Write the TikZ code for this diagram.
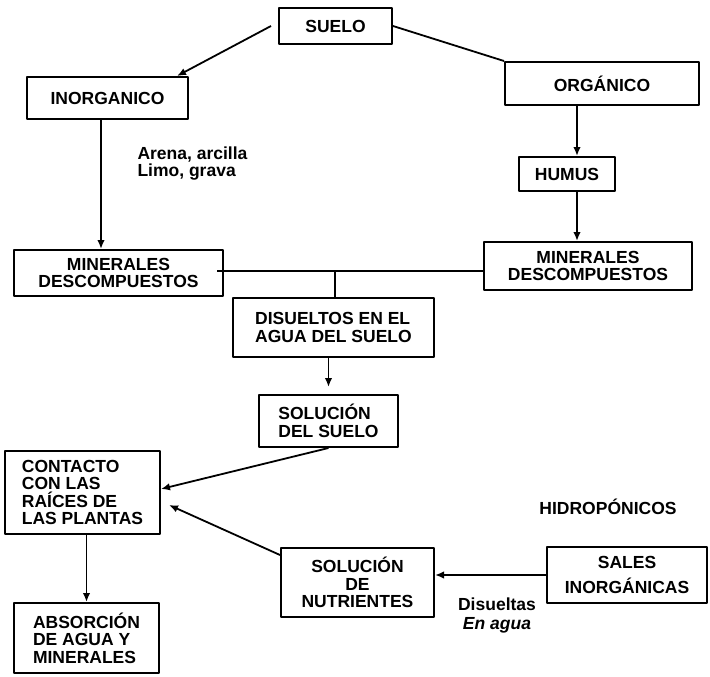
\documentclass[tikz,border=0pt]{standalone}
\usepackage{fontspec}
\setmainfont{Liberation Sans}
\usetikzlibrary{arrows.meta}
\begin{document}
\begin{tikzpicture}[x=1pt,y=-1pt,>={Latex[length=9pt,width=7.5pt]},line join=round,
	font=\fontsize{17.5}{17.5}\selectfont\bfseries,
	caja/.style={draw,line width=2pt,inner sep=0pt,align=center},
	linea/.style={line width=1.8pt},
	flecha/.style={->,line width=1.8pt}]
	\useasboundingbox (0,0) rectangle (710,677);
	\node[caja,minimum width=113pt,minimum height=36pt] (suelo) at (335.5,26) {SUELO};
	\node[caja,minimum width=161pt,minimum height=42pt] (inorg) at (107.5,98) {INORGANICO};
	\node[caja,minimum width=194pt,minimum height=43pt] (org) at (602,83.5) {ORGÁNICO};
	\node[caja,minimum width=96pt,minimum height=34pt] (humus) at (567,174) {HUMUS};
	\node[caja,minimum width=209pt,minimum height=46pt] (minL) at (118.5,273) {MINERALES\\DESCOMPUESTOS};
	\node[caja,minimum width=208pt,minimum height=48pt] (minR) at (588,266) {MINERALES\\DESCOMPUESTOS};
	\node[caja,align=left,minimum width=201pt,minimum height=59pt] (disu) at (333.5,327.5) {DISUELTOS EN EL\\AGUA DEL SUELO};
	\node[caja,align=left,minimum width=139pt,minimum height=52pt] (solS) at (328.5,421) {SOLUCIÓN\\DEL SUELO};
	\node[caja,align=left,minimum width=155pt,minimum height=83pt] (cont) at (82.5,492.5) {CONTACTO\\CON LAS\\RAÍCES DE\\LAS PLANTAS};
	\node[caja,align=left,minimum width=145pt,minimum height=70pt] (absor) at (86.5,638) {ABSORCIÓN\\DE AGUA Y\\MINERALES};
	\node[caja,minimum width=153pt,minimum height=69pt] (solN) at (357.5,582.5) {SOLUCIÓN\\DE\\NUTRIENTES};
	\node[caja,minimum width=160pt,minimum height=56pt] (sales) at (627,575) {SALES\\[8pt]INORGÁNICAS};
	\node[anchor=west,align=left] (arena) at (134,163.5) {Arena, arcilla\\Limo, grava};
	\node (hidro) at (608,507) {HIDROPÓNICOS};
	\node[align=center] (disuel) at (497,615.5) {Disueltas\\[1.5pt]\textit{En agua}};
	\coordinate (union) at (335,271);
	\draw[flecha] ([xshift=-7pt]suelo.west) -- ([xshift=69.5pt]inorg.north);
	\draw[linea] (suelo.east) -- (org.north west);
	\draw[flecha] ([xshift=-6.5pt]inorg.south) -- ([xshift=-6.5pt]inorg.south |- minL.north);
	\draw[flecha] ([xshift=10pt]humus.north |- org.south) -- ([xshift=10pt]humus.north);
	\draw[flecha] ([xshift=10pt]humus.south) -- ([xshift=10pt]humus.south |- minR.north);
	\draw[linea] ([xshift=-7pt]minL.east |- union) -- (minR.west |- union);
	\draw[linea] (union) -- (union |- disu.north);
	\draw[flecha,shorten >=7pt] (disu.south -| solS.north) -- (solS.north);
	\draw[flecha] (solS.south) -- ([yshift=3.5pt]cont.east);
	\draw[flecha] ([yshift=-8pt]solN.north west) -- ([xshift=8pt,yshift=-12.5pt]cont.east);
	\draw[flecha] (sales.west) -- (solN.east |- sales.west);
	\draw[flecha] (cont.south -| absor.north) -- (absor.north);
\end{tikzpicture}
\end{document}
